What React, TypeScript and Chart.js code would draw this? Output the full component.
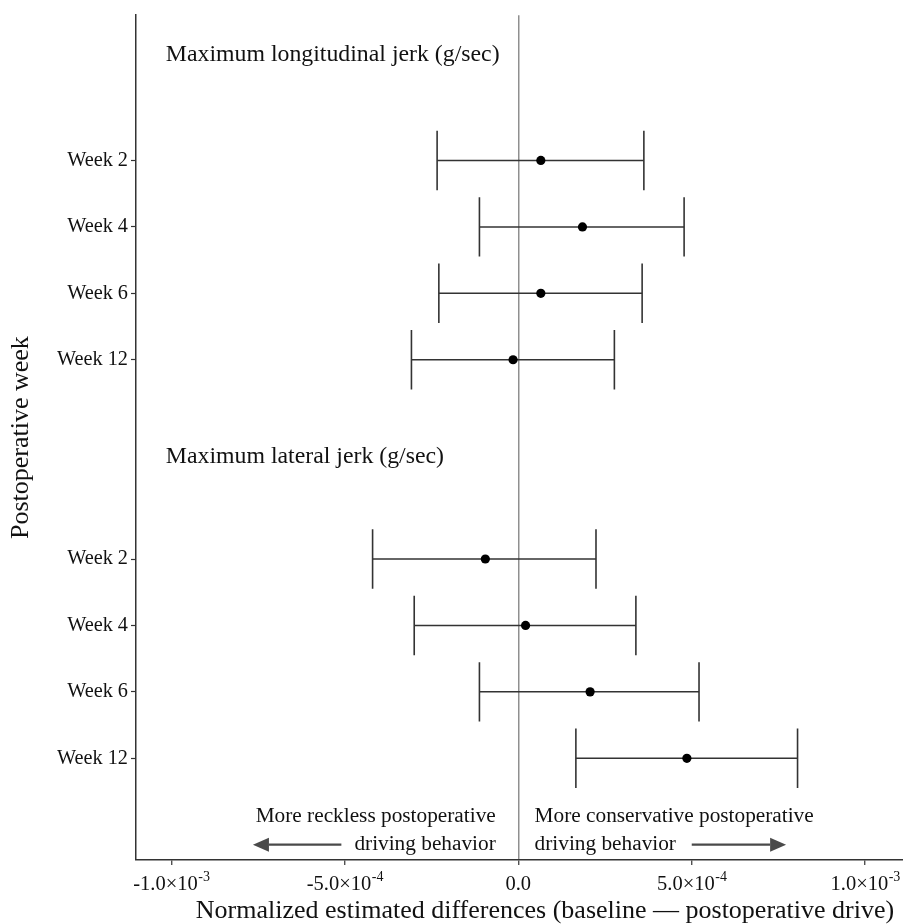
import React, { useEffect, useRef } from 'react';
import { Chart, registerables } from 'chart.js';

Chart.register(...registerables);

// ---------------- data ----------------
const weeks = ['Week 2', 'Week 4', 'Week 6', 'Week 12'];

const longitudinalEstimate = [6.5e-5, 1.85e-4, 6.5e-5, -1.5e-5];
const longitudinalLower = [-2.34e-4, -1.12e-4, -2.29e-4, -3.08e-4];
const longitudinalUpper = [3.62e-4, 4.78e-4, 3.57e-4, 2.77e-4];

const lateralEstimate = [-9.5e-5, 2.1e-5, 2.07e-4, 4.86e-4];
const lateralLower = [-4.2e-4, -3.0e-4, -1.12e-4, 1.66e-4];
const lateralUpper = [2.24e-4, 3.39e-4, 5.21e-4, 8.05e-4];

const xTickValues = [-1e-3, -5e-4, 0, 5e-4, 1e-3];
const xTickMantissas = ['-1.0\u00d710', '-5.0\u00d710', '0.0', '5.0\u00d710', '1.0\u00d710'];
const xTickExponents = ['-3', '-4', '', '-4', '-3'];

const groupTitles = ['Maximum longitudinal jerk (g/sec)', 'Maximum lateral jerk (g/sec)'];
const leftNote = ['More reckless postoperative', 'driving behavior'];
const rightNote = ['More conservative postoperative', 'driving behavior'];
const xTitle = 'Normalized estimated differences (baseline \u2014 postoperative drive)';
const yTitle = 'Postoperative week';

// ---------------- layout constants ----------------
const FONT = '"Liberation Serif", "Times New Roman", serif';
const TEXT = '#111111';
const LINE = '#333333';
const X_MIN = -1.102e-3;
const X_MAX = 1.256e-3;
const Y_MIN = -0.531;
const Y_MAX = 12.187;
const LONG_TOP_ROW = 10;
const LAT_TOP_ROW = 4;
const HEADER_X = -1.016e-3;
const HEADER_Y = [11.585, 5.546];
const NOTE_Y = [0.13, -0.3];
const LEFT_NOTE_X = -6.5e-5;
const RIGHT_NOTE_X = 4.7e-5;
const LEFT_ARROW = [-5.1e-4, -7.65e-4];
const RIGHT_ARROW = [5.0e-4, 7.72e-4];

const longRows = weeks.map((_, i) => LONG_TOP_ROW - i);
const latRows = weeks.map((_, i) => LAT_TOP_ROW - i);
const rowLabel = new Map<number, string>();
weeks.forEach((w, i) => {
  rowLabel.set(longRows[i], w);
  rowLabel.set(latRows[i], w);
});

function arrow(ctx: CanvasRenderingContext2D, x0: number, x1: number, y: number) {
  const dir = x1 > x0 ? 1 : -1;
  const headLen = 16;
  const headHalf = 7;
  ctx.beginPath();
  ctx.moveTo(x0, y);
  ctx.lineTo(x1 - dir * headLen, y);
  ctx.lineWidth = 2.4;
  ctx.strokeStyle = '#4a4a4a';
  ctx.stroke();
  ctx.beginPath();
  ctx.moveTo(x1, y);
  ctx.lineTo(x1 - dir * headLen, y - headHalf);
  ctx.lineTo(x1 - dir * headLen, y + headHalf);
  ctx.closePath();
  ctx.fillStyle = '#4a4a4a';
  ctx.fill();
}

const annotationPlugin = {
  id: 'forestAnnotations',
  afterDraw(chart: any) {
    const ctx: CanvasRenderingContext2D = chart.ctx;
    const xs = chart.scales.x;
    const ys = chart.scales.y;
    ctx.save();
    ctx.fillStyle = TEXT;

    // group headers
    ctx.font = `23.8px ${FONT}`;
    ctx.textAlign = 'left';
    ctx.textBaseline = 'middle';
    groupTitles.forEach((t, i) => {
      ctx.fillText(t, xs.getPixelForValue(HEADER_X), ys.getPixelForValue(HEADER_Y[i]));
    });

    // direction notes
    ctx.font = `21.3px ${FONT}`;
    const l1 = ys.getPixelForValue(NOTE_Y[0]);
    const l2 = ys.getPixelForValue(NOTE_Y[1]);
    ctx.textAlign = 'right';
    const lx = xs.getPixelForValue(LEFT_NOTE_X);
    ctx.fillText(leftNote[0], lx, l1);
    ctx.fillText(leftNote[1], lx, l2);
    ctx.textAlign = 'left';
    const rx = xs.getPixelForValue(RIGHT_NOTE_X);
    ctx.fillText(rightNote[0], rx, l1);
    ctx.fillText(rightNote[1], rx, l2);
    arrow(ctx, xs.getPixelForValue(LEFT_ARROW[0]), xs.getPixelForValue(LEFT_ARROW[1]), l2);
    arrow(ctx, xs.getPixelForValue(RIGHT_ARROW[0]), xs.getPixelForValue(RIGHT_ARROW[1]), l2);

    // x tick labels with superscript exponents
    const baseY = ys.bottom + 30;
    ctx.fillStyle = TEXT;
    ctx.textBaseline = 'alphabetic';
    ctx.textAlign = 'left';
    xTickValues.forEach((v, i) => {
      const px = xs.getPixelForValue(v);
      ctx.font = `20.5px ${FONT}`;
      const mw = ctx.measureText(xTickMantissas[i]).width;
      ctx.font = `14px ${FONT}`;
      const ew = xTickExponents[i] ? ctx.measureText(xTickExponents[i]).width : 0;
      const start = px - (mw + ew) / 2;
      ctx.font = `20.5px ${FONT}`;
      ctx.fillText(xTickMantissas[i], start, baseY);
      if (xTickExponents[i]) {
        ctx.font = `14px ${FONT}`;
        ctx.fillText(xTickExponents[i], start + mw + 0.5, baseY - 9);
      }
    });
    ctx.restore();
  },
};

export default function App() {
  const ref = useRef<HTMLCanvasElement>(null);

  useEffect(() => {
    if (!ref.current) return;

    const barDataset = (lo: number, hi: number, y: number) => ({
      type: 'scatter' as const,
      data: [
        { x: lo, y },
        { x: hi, y },
      ],
      showLine: true,
      borderColor: LINE,
      borderWidth: 1.5,
      pointStyle: 'line',
      rotation: 90,
      pointRadius: 29.7,
      pointHoverRadius: 29.7,
      pointBorderColor: LINE,
      pointBorderWidth: 1.6,
      order: 2,
    });

    const datasets: any[] = [
      {
        label: 'Longitudinal estimate',
        data: longitudinalEstimate.map((x, i) => ({ x, y: longRows[i] })),
        pointStyle: 'circle',
        pointRadius: 4.6,
        backgroundColor: '#000',
        borderWidth: 0,
        order: 0,
      },
      {
        label: 'Lateral estimate',
        data: lateralEstimate.map((x, i) => ({ x, y: latRows[i] })),
        pointStyle: 'circle',
        pointRadius: 4.6,
        backgroundColor: '#000',
        borderWidth: 0,
        order: 0,
      },
      ...longitudinalLower.map((lo, i) => barDataset(lo, longitudinalUpper[i], longRows[i])),
      ...lateralLower.map((lo, i) => barDataset(lo, lateralUpper[i], latRows[i])),
    ];

    const chart = new Chart(ref.current, {
      type: 'scatter',
      data: { datasets },
      options: {
        animation: false,
        responsive: false,
        devicePixelRatio: 1,
        layout: { autoPadding: false, padding: { top: 13, left: 0, right: 6, bottom: 0 } },
        plugins: {
          legend: { display: false },
          tooltip: { enabled: false },
        },
        scales: {
          x: {
            type: 'linear',
            min: X_MIN,
            max: X_MAX,
            afterBuildTicks: (scale: any) => {
              scale.ticks = xTickValues.map((v) => ({ value: v }));
            },
            afterFit: (scale: any) => {
              scale.height = 64;
            },
            ticks: { display: false },
            grid: {
              drawOnChartArea: true,
              color: (c: any) => (c.tick && c.tick.value === 0 ? '#8f8f8f' : 'rgba(0,0,0,0)'),
              lineWidth: 1.5,
              drawTicks: true,
              tickLength: 5,
              tickColor: LINE,
              tickWidth: 1.2,
            },
            border: { display: true, color: LINE, width: 1.5 },
            title: {
              display: true,
              text: xTitle,
              color: TEXT,
              font: { family: FONT, size: 26, lineHeight: 1 },
              padding: { top: 0, bottom: 0 },
            },
          },
          y: {
            type: 'linear',
            min: Y_MIN,
            max: Y_MAX,
            afterBuildTicks: (scale: any) => {
              scale.ticks = [...longRows, ...latRows].map((v) => ({ value: v }));
            },
            afterFit: (scale: any) => {
              scale.width = 136;
            },
            ticks: {
              color: TEXT,
              font: { family: FONT, size: 20.3 },
              padding: 3,
              callback: (v: any) => rowLabel.get(Number(v)) ?? '',
            },
            grid: {
              drawOnChartArea: false,
              drawTicks: true,
              tickLength: 5,
              tickColor: LINE,
              tickWidth: 1.2,
            },
            border: { display: true, color: LINE, width: 1.5 },
            title: {
              display: true,
              text: yTitle,
              color: TEXT,
              font: { family: FONT, size: 26, lineHeight: 1.2 },
              padding: { top: 6, bottom: 0 },
            },
          },
        },
      },
      plugins: [annotationPlugin],
    });

    return () => chart.destroy();
  }, []);

  return (
    <div
      style={{
        position: 'absolute',
        left: 0,
        top: 0,
        width: 903,
        height: 924,
        overflow: 'hidden',
        background: '#fff',
      }}
    >
      <canvas ref={ref} width={960} height={924} style={{ display: 'block' }} />
    </div>
  );
}
